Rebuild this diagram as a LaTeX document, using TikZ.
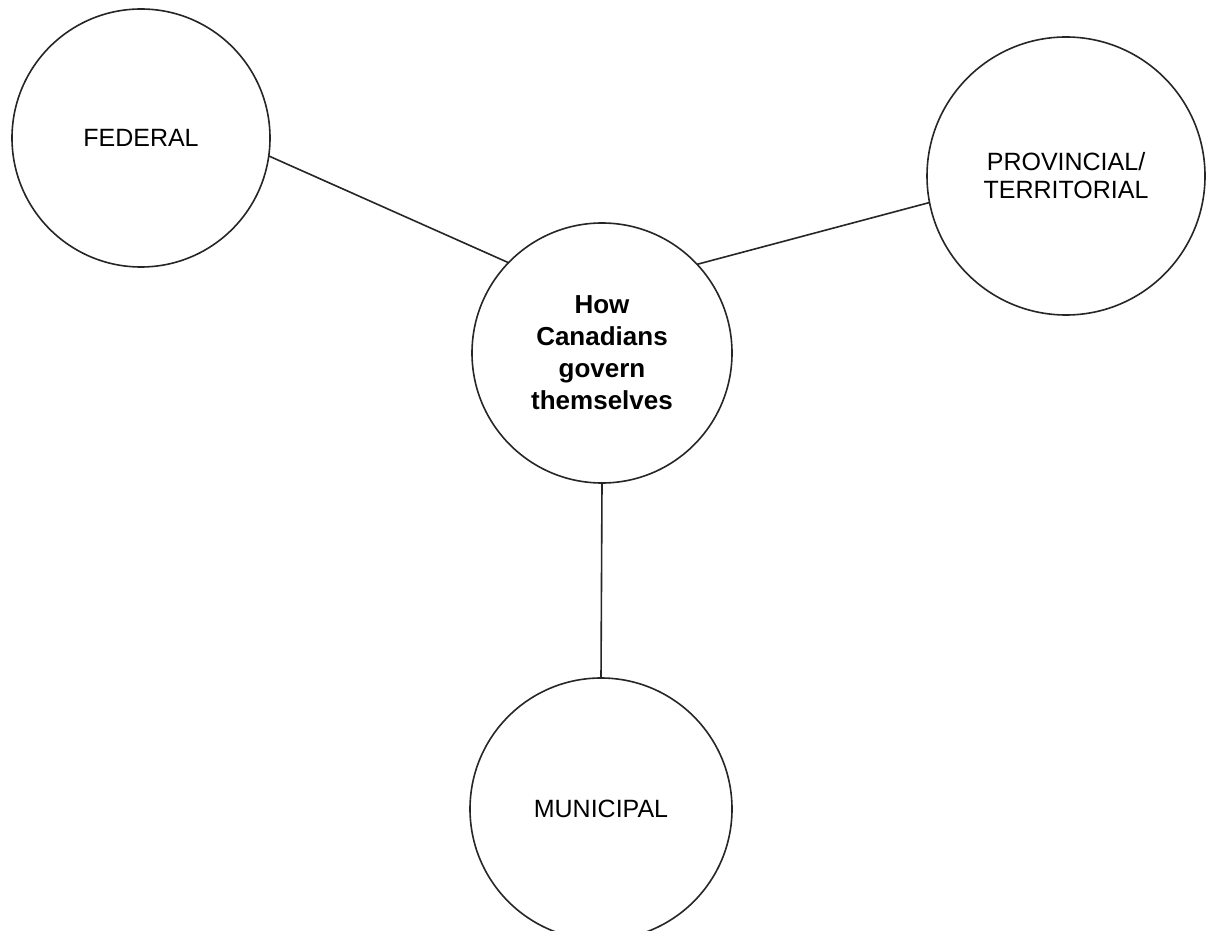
\documentclass[tikz,border=0pt]{standalone}
\usepackage{fontspec}
\setmainfont{Liberation Sans}
\begin{document}
\begin{tikzpicture}[x=1pt,y=1pt,
  lvl/.style={circle,draw=black!85,line width=1.6pt,inner sep=0pt,outer sep=0pt,align=center,
    font=\fontsize{25}{28}\selectfont},
  hubst/.style={lvl,font=\fontsize{26}{32}\selectfont\bfseries},
  conn/.style={draw=black!85,line width=1.6pt}]
\clip (0,0) rectangle (1206,930);
\fill[white] (0,0) rectangle (1206,930);
\node[lvl,minimum size=258pt] (fed) at (141,792) {FEDERAL};
\node[lvl,minimum size=278pt] (prov) at (1066,754) {PROVINCIAL/\\TERRITORIAL};
\node[hubst,minimum size=260pt] (hub) at (602,577) {How\\Canadians\\govern\\themselves};
\node[lvl,minimum size=262pt] (mun) at (601,121) {MUNICIPAL};
\draw[conn] (fed.{-8.4}) -- (hub.{136.9});
\draw[conn] (prov.{191}) -- (hub.{43.7});
\draw[conn] (hub.{-90.9}) -- (mun.{90.5});
\end{tikzpicture}
\end{document}
